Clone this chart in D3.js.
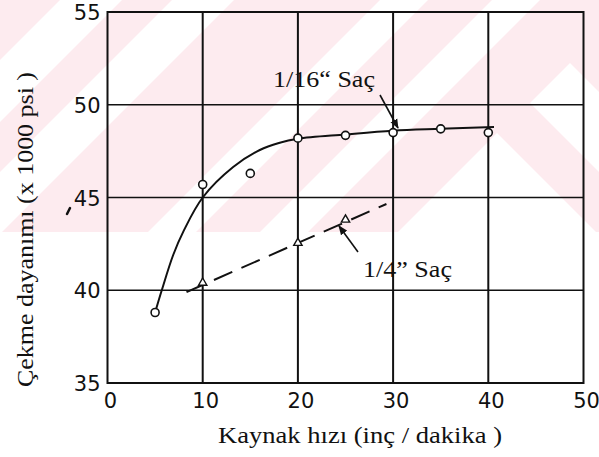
<!DOCTYPE html>
<html>
<head>
<meta charset="utf-8">
<script src="https://cdn.jsdelivr.net/npm/d3@7"></script>
<style>
  body { margin: 0; background: #fff; }
  svg { display: block; }
</style>
</head>
<body>
<div id="chart"></div>
<script>
// 1/16" sheet: measured points
var thinX = [5, 10, 15, 20, 25, 30, 35, 40];
var thinY = [38.8, 45.7, 46.3, 48.2, 48.35, 48.5, 48.7, 48.5];
// hand-drawn fit curve through them
var curveX = [5, 5.7, 6.9, 8.0, 10.0, 13.2, 16.0, 18.0, 20, 25, 30, 35, 40.6];
var curveY = [38.8, 40.0, 41.9, 43.2, 45.0, 46.64, 47.56, 47.94, 48.17, 48.4, 48.6, 48.7, 48.8];
// 1/4" sheet
var thickX = [10, 20, 25];
var thickY = [40.4, 42.55, 43.8];
var fitX = [8.3, 29.3];
var fitY = [39.9, 44.65];

var xTicks = [0, 10, 20, 30, 40, 50];
var yTicks = [35, 40, 45, 50, 55];

var width = 599, height = 457;

var svg = d3.select('#chart').append('svg')
    .attr('width', width)
    .attr('height', height);

svg.append('rect').attr('width', width).attr('height', height).attr('fill', '#fff');

// faint watermark in the upper part of the scan
var wmH = 232;
var wm = svg.append('g');
wm.append('clipPath').attr('id', 'wmclip').append('rect').attr('width', width).attr('height', wmH);
wm.append('rect').attr('width', width).attr('height', wmH).attr('fill', '#fdebef');
var slashBands = [[60, 122], [172, 234], [380, 428], [492, 540]];
slashBands.forEach(function (b) {
    wm.append('polygon')
        .attr('points', [[b[0], 0], [b[1], 0], [b[1] - wmH, wmH], [b[0] - wmH, wmH]].join(' '))
        .attr('fill', '#fff');
});
// chevrons on the right
wm.append('polygon')
    .attr('points', [[497, 133], [697, 333], [297, 333]].join(' '))
    .attr('fill', '#fff').attr('clip-path', 'url(#wmclip)');
wm.append('path')
    .attr('d', 'M570,63 L700,193 L660,233 L570,143 L530,103 Z')
    .attr('fill', '#fff').attr('clip-path', 'url(#wmclip)');

var x = d3.scaleLinear().domain([0, 50]).range([107.5, 583.5]);
var y = d3.scaleLinear().domain([35, 55]).range([383, 12]);

// grid
svg.append('g').selectAll('line')
    .data(xTicks.slice(1, -1))
    .enter().append('line')
    .attr('x1', function (d) { return x(d); })
    .attr('x2', function (d) { return x(d); })
    .attr('y1', y(55)).attr('y2', y(35))
    .attr('stroke', '#111').attr('stroke-width', 2);

svg.append('g').selectAll('line')
    .data(yTicks.slice(1, -1))
    .enter().append('line')
    .attr('y1', function (d) { return y(d); })
    .attr('y2', function (d) { return y(d); })
    .attr('x1', x(0)).attr('x2', x(50))
    .attr('stroke', '#111').attr('stroke-width', 1.5);

svg.append('rect')
    .attr('x', x(0)).attr('y', y(55))
    .attr('width', x(50) - x(0)).attr('height', y(35) - y(55))
    .attr('fill', 'none').attr('stroke', '#111').attr('stroke-width', 2);

// tick labels
svg.append('g').selectAll('text')
    .data(yTicks)
    .enter().append('text')
    .attr('x', x(0) - 7)
    .attr('y', function (d) { return y(d) + 8; })
    .attr('text-anchor', 'end')
    .style('font-family', 'DejaVu Sans')
    .style('font-size', '21px')
    .attr('fill', '#111')
    .text(function (d) { return d; });

svg.append('g').selectAll('text')
    .data(xTicks)
    .enter().append('text')
    .attr('x', function (d) { return x(d) + 3; })
    .attr('y', 408)
    .attr('text-anchor', 'middle')
    .style('font-family', 'DejaVu Sans')
    .style('font-size', '21px')
    .attr('fill', '#111')
    .text(function (d) { return d; });

// axis titles
svg.append('text')
    .attr('x', 218).attr('y', 443)
    .attr('textLength', 284).attr('lengthAdjust', 'spacingAndGlyphs')
    .style('font-family', 'Liberation Serif')
    .style('font-size', '24px')
    .attr('fill', '#111')
    .text('Kaynak hızı (inç / dakika )');

svg.append('text')
    .attr('transform', 'translate(33,387) rotate(-90)')
    .attr('textLength', 315).attr('lengthAdjust', 'spacingAndGlyphs')
    .style('font-family', 'Liberation Serif')
    .style('font-size', '24px')
    .attr('fill', '#111')
    .text('Çekme dayanımı (x 1000 psi )');

// 1/16" curve
var line = d3.line()
    .x(function (d) { return x(d[0]); })
    .y(function (d) { return y(d[1]); })
    .curve(d3.curveCatmullRom.alpha(0.5));

svg.append('path')
    .datum(d3.zip(curveX, curveY))
    .attr('d', line)
    .attr('fill', 'none').attr('stroke', '#111').attr('stroke-width', 2);

// 1/4" dashed fit
svg.append('path')
    .datum(d3.zip(fitX, fitY))
    .attr('d', d3.line().x(function (d) { return x(d[0]); }).y(function (d) { return y(d[1]); }))
    .attr('fill', 'none').attr('stroke', '#111').attr('stroke-width', 2)
    .attr('stroke-dasharray', '20,10');

svg.append('g').selectAll('circle')
    .data(d3.zip(thinX, thinY))
    .enter().append('circle')
    .attr('cx', function (d) { return x(d[0]); })
    .attr('cy', function (d) { return y(d[1]); })
    .attr('r', 4)
    .attr('fill', '#fff').attr('stroke', '#111').attr('stroke-width', 1.6);

svg.append('g').selectAll('path')
    .data(d3.zip(thickX, thickY))
    .enter().append('path')
    .attr('transform', function (d) { return 'translate(' + x(d[0]) + ',' + y(d[1]) + ')'; })
    .attr('d', d3.symbol().type(d3.symbolTriangle).size(30))
    .attr('fill', '#fff').attr('stroke', '#111').attr('stroke-width', 1.4);

// annotations
var defs = svg.append('defs');
defs.append('marker')
    .attr('id', 'arrow')
    .attr('viewBox', '0 0 10 10')
    .attr('refX', 9).attr('refY', 5)
    .attr('markerWidth', 6).attr('markerHeight', 6)
    .attr('orient', 'auto')
    .append('path').attr('d', 'M0,1 L10,5 L0,9 Z').attr('fill', '#111');

svg.append('text')
    .attr('x', 273).attr('y', 87)
    .attr('textLength', 102).attr('lengthAdjust', 'spacingAndGlyphs')
    .style('font-family', 'Liberation Serif')
    .style('font-size', '24px')
    .attr('fill', '#111')
    .text('1/16“ Saç');

svg.append('line')
    .attr('x1', 380).attr('y1', 95).attr('x2', 398).attr('y2', 128)
    .attr('stroke', '#111').attr('stroke-width', 1.6)
    .attr('marker-end', 'url(#arrow)');

svg.append('text')
    .attr('x', 363).attr('y', 277)
    .attr('textLength', 89).attr('lengthAdjust', 'spacingAndGlyphs')
    .style('font-family', 'Liberation Serif')
    .style('font-size', '24px')
    .attr('fill', '#111')
    .text('1/4” Saç');

svg.append('line')
    .attr('x1', 358).attr('y1', 252).attr('x2', 339).attr('y2', 226)
    .attr('stroke', '#111').attr('stroke-width', 1.6)
    .attr('marker-end', 'url(#arrow)');

// stray mark from the scan
svg.append('path')
    .attr('d', 'M70,208 L67,214')
    .attr('stroke', '#111').attr('stroke-width', 2.5).attr('stroke-linecap', 'round');
</script>
</body>
</html>
